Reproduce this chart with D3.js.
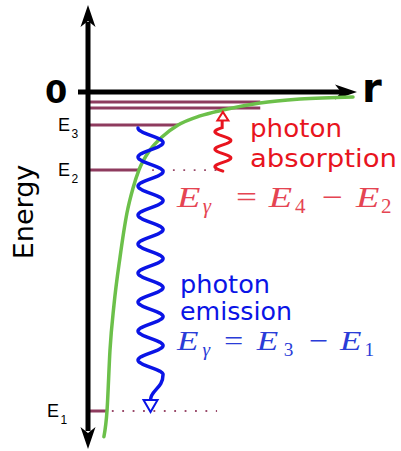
<!DOCTYPE html>
<html>
<head>
<meta charset="utf-8">
<script src="https://cdn.jsdelivr.net/npm/d3@7"></script>
<style>
  html, body { margin: 0; padding: 0; background: #fff; }
  svg { display: block; }
</style>
</head>
<body>
<div id="chart"></div>
<script>
// energy levels (eV-like units)
const levelNames = ['E1', 'E2', 'E3', 'E4', 'E5'];
const levelEnergy = [-13.6, -3.33, -1.41, -0.68, -0.43];
const levelEndR = [0.68, 1.92, 3.4, 6.5, 6.5];

// dotted continuations (E1, E2)
const dottedLevels = ['E1', 'E2'];
const dottedFromR = [0.9, 2.42];
const dottedToR = [4.87, 4.87];

// potential curve E(r)
const potentialR = [0.6, 0.72, 0.83, 0.98, 1.21, 1.47, 1.7, 1.92, 2.34, 2.79, 3.4, 4.23, 5.09, 6.49, 8.0, 10.0];
const potentialE = [-14.7, -13.55, -11.0, -9.08, -7.03, -5.16, -4.09, -3.33, -2.47, -1.92, -1.41, -1.02, -0.77, -0.47, -0.3, -0.21];

// photons
const emissionFrom = 'E3', emissionTo = 'E1', emissionR = 2.36;
const absorptionFrom = 'E2', absorptionTo = 'E4', absorptionR = 5.09;

const width = 401, height = 451;
const maroon = '#8e3b5e';
const green = '#6cc04a';
const red = '#e8141e';
const redEq = '#e54452';
const blue = '#0a14e6';
const blueEq = '#2a3cd8';

const svg = d3.select('#chart').append('svg')
  .attr('width', width)
  .attr('height', height);

const x = d3.scaleLinear().domain([0, 10]).range([88, 353]);
const y = d3.scaleLinear().domain([0, -13.6]).range([92, 411]);
const levelY = name => y(levelEnergy[levelNames.indexOf(name)]);

// level lines
svg.append('g').selectAll('line')
  .data(levelNames)
  .enter()
  .append('line')
  .attr('x1', x(0))
  .attr('x2', (d, i) => x(levelEndR[i]))
  .attr('y1', d => levelY(d))
  .attr('y2', d => levelY(d))
  .attr('stroke', maroon)
  .attr('stroke-width', 3);

// dotted
svg.append('g').selectAll('line')
  .data(dottedLevels)
  .enter()
  .append('line')
  .attr('x1', (d, i) => x(dottedFromR[i]))
  .attr('x2', (d, i) => x(dottedToR[i]))
  .attr('y1', d => levelY(d))
  .attr('y2', d => levelY(d))
  .attr('stroke', '#9a4a6a')
  .attr('stroke-width', 1.8)
  .attr('stroke-dasharray', '1.8 8.6');

// axes
const ax = svg.append('g');
const x0 = x(0), y0 = y(0);
ax.append('line')
  .attr('x1', x0).attr('x2', x0)
  .attr('y1', y0 - 70).attr('y2', y(-13.6) + 20)
  .attr('stroke', '#000').attr('stroke-width', 5);
ax.append('line')
  .attr('x1', x0 - 10).attr('x2', x(10) - 12)
  .attr('y1', y0).attr('y2', y0)
  .attr('stroke', '#000').attr('stroke-width', 5);

function arrowHead(tx, ty, dir) {
  // dir: [dx, dy] unit vector toward the tip
  const [dx, dy] = dir, px = -dy, py = dx;
  const len = 22, half = 7.5, notch = 16;
  const pts = [
    [tx, ty],
    [tx - dx * len + px * half, ty - dy * len + py * half],
    [tx - dx * notch, ty - dy * notch],
    [tx - dx * len - px * half, ty - dy * len - py * half]
  ];
  ax.append('path').attr('d', 'M' + pts.join('L') + 'Z').attr('fill', '#000');
}
arrowHead(x0, y0 - 87, [0, -1]);
arrowHead(x0, y(-13.6) + 38, [0, 1]);
arrowHead(x(10) + 4, y0, [1, 0]);

// potential curve
const line = d3.line()
  .x(d => x(d[0]))
  .y(d => y(d[1]))
  .curve(d3.curveMonotoneX);
svg.append('path')
  .datum(potentialR.map((r, i) => [r, potentialE[i]]))
  .attr('fill', 'none')
  .attr('stroke', green)
  .attr('stroke-width', 3.5)
  .attr('stroke-linecap', 'round')
  .attr('d', line);

// photon squiggles
function squiggle(cx, yA, yB, period, amp, halfWaves, startLeft) {
  const dirSign = yB > yA ? 1 : -1;
  const pts = [];
  const total = halfWaves * period / 2;
  for (let t = 0; t <= total + 0.01; t += 0.5) {
    const phase = 2 * Math.PI * t / period;
    const xx = startLeft ? cx - amp * Math.cos(phase) : cx - amp * Math.sin(phase);
    pts.push([xx, yA + dirSign * t]);
  }
  return pts;
}

// emission (downwards, E3 -> E1)
const ex = x(emissionR);
const eTop = levelY(emissionFrom) + 3;
const eBot = levelY(emissionTo);
const ePts = squiggle(ex, eTop, eBot, 29, 12.5, 17, true);
const eLast = ePts[ePts.length - 1];
let eD = d3.line()(ePts);
eD += `C${eLast[0]},${eLast[1] + 14} ${ex},${eBot - 21} ${ex},${eBot - 11}`;
svg.append('path')
  .attr('d', eD)
  .attr('fill', 'none')
  .attr('stroke', blue)
  .attr('stroke-width', 3.5)
  .attr('stroke-linecap', 'round');
svg.append('path')
  .attr('d', `M${ex - 7},${eBot - 11}L${ex + 7},${eBot - 11}L${ex},${eBot + 1}Z`)
  .attr('fill', '#fff')
  .attr('stroke', blue)
  .attr('stroke-width', 2)
  .attr('stroke-linejoin', 'miter');

// absorption (upwards, E2 -> E4)
const axp = x(absorptionR);
const aBot = levelY(absorptionFrom) + 1;
const aTop = levelY(absorptionTo);
const aPts = squiggle(axp, aBot, aTop, 17.5, 8, 5, false);
const aLast = aPts[aPts.length - 1];
svg.append('path')
  .attr('d', d3.line()(aPts) + `L${aLast[0]},${aTop + 12.5}`)
  .attr('fill', 'none')
  .attr('stroke', red)
  .attr('stroke-width', 3)
  .attr('stroke-linecap', 'round');
svg.append('path')
  .attr('d', `M${axp - 5.5},${aTop + 12.5}L${axp + 5.5},${aTop + 12.5}L${axp},${aTop + 4}Z`)
  .attr('fill', '#fff')
  .attr('stroke', red)
  .attr('stroke-width', 2);

// axis labels
svg.append('text')
  .attr('x', 45).attr('y', y0 + 11)
  .attr('font-family', 'DejaVu Sans')
  .attr('font-weight', 'bold')
  .attr('font-size', 32)
  .text('0');
svg.append('text')
  .attr('x', 362).attr('y', y0 + 10)
  .attr('font-family', 'DejaVu Sans')
  .attr('font-weight', 'bold')
  .attr('font-size', 40)
  .text('r');
svg.append('text')
  .attr('transform', 'translate(33,212) rotate(-90)')
  .attr('text-anchor', 'middle')
  .attr('font-family', 'DejaVu Sans')
  .attr('font-size', 27)
  .text('Energy');

// level labels
const labelNames = ['E1', 'E2', 'E3'];
const labelX = [47, 58, 58];
const lbl = svg.append('g').selectAll('text')
  .data(labelNames)
  .enter()
  .append('text')
  .attr('x', (d, i) => labelX[i])
  .attr('y', d => levelY(d) + 6)
  .attr('font-family', 'Liberation Sans, Arial, sans-serif')
  .attr('font-size', 18)
  .attr('fill', '#000');
lbl.append('tspan').text('E');
lbl.append('tspan')
  .attr('dx', 1.5)
  .attr('dy', 7)
  .attr('font-size', 12)
  .text(d => d.slice(1));

// annotation text
function words(lines, xx, baselines, lengths, color) {
  svg.append('g').selectAll('text')
    .data(lines)
    .enter()
    .append('text')
    .attr('x', xx)
    .attr('y', (d, i) => baselines[i])
    .attr('font-family', 'DejaVu Sans')
    .attr('font-size', 25)
    .attr('fill', color)
    .attr('textLength', (d, i) => lengths[i])
    .attr('lengthAdjust', 'spacingAndGlyphs')
    .text(d => d);
}
words(['photon', 'absorption'], 250, [137, 167], [92, 147], red);
words(['photon', 'emission'], 180, [293, 320], [90, 112], blue);

function equation(parts, xx, base, size, offsets, color) {
  const g = svg.append('g')
    .attr('font-family', 'Liberation Serif, Times New Roman, serif')
    .attr('fill', color);
  parts.forEach((p, i) => {
    const fs = p.sub ? size * 0.7 : size;
    const t = g.append('text')
      .attr('x', xx + offsets[i] * size)
      .attr('y', p.sub ? base + size * 0.2 : base)
      .attr('font-style', p.it ? 'italic' : 'normal')
      .attr('font-size', fs)
      .text(p.t);
    if (p.w) {
      t.attr('textLength', p.w * size).attr('lengthAdjust', 'spacingAndGlyphs');
    }
  });
}
const eqAbs = [
  { t: 'E', it: true, w: 0.78 }, { t: 'γ', it: true, sub: true }, { t: '=', w: 0.7 },
  { t: 'E', it: true, w: 0.78 }, { t: '4', sub: true }, { t: '−', w: 0.7 },
  { t: 'E', it: true, w: 0.78 }, { t: '2', sub: true }
];
const eqEm = [
  { t: 'E', it: true, w: 0.78 }, { t: 'γ', it: true, sub: true }, { t: '=', w: 0.7 },
  { t: 'E', it: true, w: 0.78 }, { t: '3', sub: true }, { t: '−', w: 0.7 },
  { t: 'E', it: true, w: 0.78 }, { t: '1', sub: true }
];
equation(eqAbs, 177, 207, 30, [0, 0.86, 1.97, 3.06, 3.93, 4.83, 5.97, 6.8], redEq);
equation(eqEm, 177, 350, 27.5, [0, 0.93, 1.71, 2.9, 3.88, 4.8, 5.93, 6.82], blueEq);
</script>
</body>
</html>
